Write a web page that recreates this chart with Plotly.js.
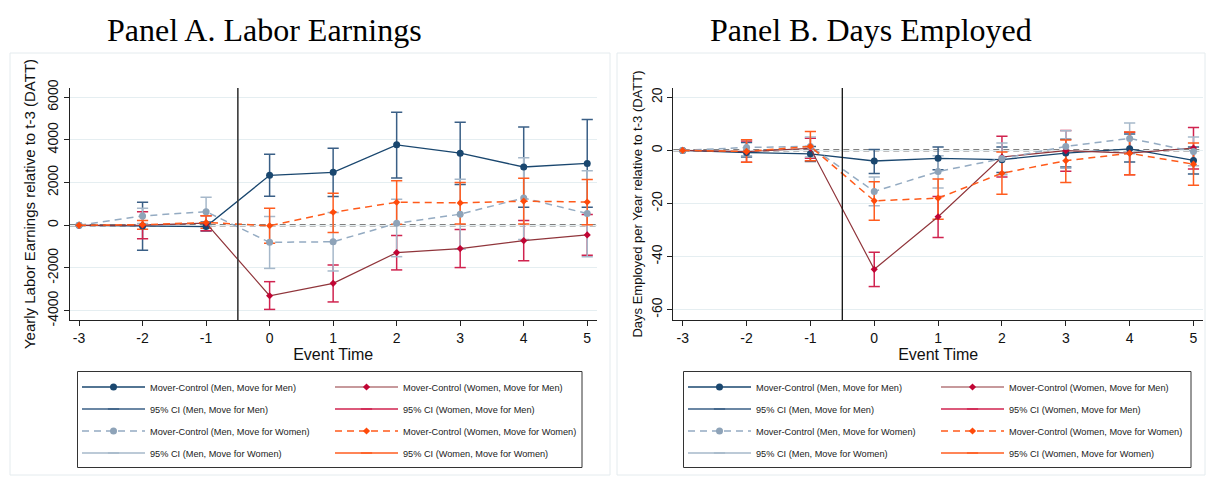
<!DOCTYPE html>
<html>
<head>
<meta charset="utf-8">
<script src="https://cdn.plot.ly/plotly-3.0.1.min.js"></script>
<style>html,body{margin:0;padding:0;background:#fff;}#chart{width:1206px;height:477px;}</style>
</head>
<body>
<div id="chart"></div>
<script>
// Event time
const eventTime = [-3, -2, -1, 0, 1, 2, 3, 4, 5];

// Panel A: Labor earnings (DATT relative to t-3)
const earnMM   = [0, -30, -60, 2340, 2480, 3770, 3380, 2730, 2900];
const earnMMlo = [0, -1170, -270, 1360, 1345, 2220, 1910, 845, 845];
const earnMMhi = [0, 1080, 150, 3330, 3610, 5300, 4830, 4610, 4950];

const earnWM   = [0, 10, 100, -3300, -2720, -1280, -1090, -720, -450];
const earnWMlo = [0, -625, -250, -3940, -3590, -2090, -1980, -1660, -1400];
const earnWMhi = [0, 640, 450, -2640, -1860, -480, -200, 220, 500];

const earnMW   = [0, 440, 640, -800, -770, 90, 520, 1280, 550];
const earnMWlo = [0, 80, -30, -2020, -2140, -1470, -1120, -660, -1470];
const earnMWhi = [0, 800, 1310, 410, 600, 1220, 2160, 3160, 2560];

const earnWW   = [0, 30, 130, -20, 610, 1080, 1050, 1130, 1090];
const earnWWlo = [0, -190, -140, -840, -340, 50, 60, 60, 30];
const earnWWhi = [0, 220, 450, 800, 1500, 2090, 2000, 2200, 2140];

// Panel B: Days employed per year (DATT relative to t-3)
const daysMM   = [0, -0.8, -1.3, -4.0, -3.0, -3.5, -1.0, 0.6, -3.8];
const daysMMlo = [0, -2.5, -4.2, -8.7, -7.3, -8.3, -6.3, -4.4, -8.9];
const daysMMhi = [0, 3.0, 1.5, 0.3, 1.3, 1.3, 4.2, 6.2, 1.3];

const daysWM   = [0, -0.5, 0.8, -44.8, -25.0, -2.5, -0.1, -1.0, 0.9];
const daysWMlo = [0, -4.5, -3.0, -51.3, -32.8, -10.0, -7.9, -9.2, -7.0];
const daysWMhi = [0, 3.5, 4.6, -38.4, -17.4, 5.3, 7.5, 6.8, 8.6];

const daysMW   = [0, 1.1, 1.5, -15.5, -8.0, -3.1, 1.5, 4.5, -0.4];
const daysMWlo = [0, -2.0, -2.5, -20.9, -14.2, -9.2, -6.7, -1.3, -5.8];
const daysMWhi = [0, 4.0, 5.0, -10.0, -2.0, 2.8, 7.4, 10.3, 5.0];

const daysWW   = [0, -0.4, 1.5, -19.0, -18.0, -8.6, -3.9, -1.1, -5.2];
const daysWWlo = [0, -4.5, -3.9, -26.3, -25.9, -16.5, -12.1, -9.2, -13.1];
const daysWWhi = [0, 4.0, 7.1, -11.8, -10.8, -0.6, 3.9, 6.9, 2.8];

// Tick labels
const earnTicks = [-4000, -2000, 0, 2000, 4000, 6000];
const daysTicks = [-60, -40, -20, 0, 20];

// Legend labels
const labels = {
  MM: 'Mover-Control (Men, Move for Men)',
  WM: 'Mover-Control (Women, Move for Men)',
  ciMM: '95% CI (Men, Move for Men)',
  ciWM: '95% CI (Women, Move for Men)',
  MW: 'Mover-Control (Men, Move for Women)',
  WW: 'Mover-Control (Women, Move for Women)',
  ciMW: '95% CI (Men, Move for Women)',
  ciWW: '95% CI (Women, Move for Women)'
};

const sty = {
  MM: {line: '#1a476f', marker: '#1a476f', sym: 'circle', size: 7, dash: 'solid', ci: '#3a5f86', w: 1.3},
  WM: {line: '#90353b', marker: '#c10534', sym: 'diamond', size: 5.5, dash: 'solid', ci: '#d0234f', w: 1.2},
  MW: {line: '#94abc2', marker: '#8ea3b8', sym: 'circle', size: 7, dash: '7px,5px', ci: '#a6b8ca', w: 1.5},
  WW: {line: '#ff5a1a', marker: '#ff4a0a', sym: 'diamond', size: 5.5, dash: '7px,5px', ci: '#ff5c1f', w: 1.5}
};

function ciSeg(x, lo, hi) {
  const xx = [], yy = [];
  for (let i = 0; i < x.length; i++) {
    if (lo[i] === hi[i]) continue;
    xx.push(x[i], x[i], null);
    yy.push(lo[i], hi[i], null);
  }
  return {x: xx, y: yy};
}

const rankOf = {MM: 1, ciMM: 2, MW: 3, ciMW: 4, WM: 1, ciWM: 2, WW: 3, ciWW: 4};
const colOf = {MM: 0, ciMM: 0, MW: 0, ciMW: 0, WM: 1, ciWM: 1, WW: 1, ciWW: 1};

function panelTraces(data, xa, ya, legA, legB, pfx) {
  const tr = [];
  ['MM', 'WM', 'MW', 'WW'].forEach(k => {
    const s = sty[k];
    const seg = ciSeg(eventTime, data[k + 'lo'], data[k + 'hi']);
    tr.push({
      type: 'scatter', mode: 'lines+markers', x: seg.x, y: seg.y,
      xaxis: xa, yaxis: ya, connectgaps: false,
      line: {color: s.ci, width: 1.5},
      marker: {symbol: 'line-ew', size: 8, color: s.ci, line: {color: s.ci, width: 1.5}},
      name: labels['ci' + k], legend: colOf['ci' + k] ? legB : legA,
      legendgroup: pfx + 'ci' + k, legendrank: rankOf['ci' + k], hoverinfo: 'skip'
    });
  });
  ['MM', 'WM', 'MW', 'WW'].forEach(k => {
    const s = sty[k];
    tr.push({
      type: 'scatter', mode: 'lines+markers', x: eventTime, y: data[k],
      xaxis: xa, yaxis: ya,
      line: {color: s.line, width: s.w, dash: s.dash},
      marker: {symbol: s.sym, size: s.size, color: s.marker},
      name: labels[k], legend: colOf[k] ? legB : legA,
      legendgroup: pfx + k, legendrank: rankOf[k]
    });
  });
  return tr;
}

const dataA = {MM: earnMM, MMlo: earnMMlo, MMhi: earnMMhi, WM: earnWM, WMlo: earnWMlo, WMhi: earnWMhi,
  MW: earnMW, MWlo: earnMWlo, MWhi: earnMWhi, WW: earnWW, WWlo: earnWWlo, WWhi: earnWWhi};
const dataB = {MM: daysMM, MMlo: daysMMlo, MMhi: daysMMhi, WM: daysWM, WMlo: daysWMlo, WMhi: daysWMhi,
  MW: daysMW, MWlo: daysMWlo, MWhi: daysMWhi, WW: daysWW, WWlo: daysWWlo, WWhi: daysWWhi};

const traces = panelTraces(dataA, 'x', 'y', 'legend', 'legend2', 'a')
  .concat(panelTraces(dataB, 'x2', 'y2', 'legend3', 'legend4', 'b'));

const W = 1206, H = 477;
const px = v => v / W;
const py = v => (H - v) / H;

const tickFont = {family: 'Liberation Sans, Arial, sans-serif', size: 14, color: '#111'};
const axX = (dom) => ({
  domain: dom, range: [-3.147, 5.149], tickvals: eventTime, ticktext: eventTime.map(String),
  ticks: 'outside', ticklen: 5, tickcolor: '#222', tickwidth: 1,
  showline: true, linecolor: '#222', linewidth: 1.2, mirror: false,
  showgrid: false, zeroline: false, tickfont: tickFont,
  title: {text: 'Event Time', font: {family: 'Liberation Sans, Arial, sans-serif', size: 16, color: '#111'}, standoff: 1}
});
const axY = (dom, rng, tv, title, tsize, anchor, so) => ({
  domain: dom, range: rng, tickvals: tv, ticktext: tv.map(String), tickangle: -90,
  ticks: 'outside', ticklen: 5, tickcolor: '#222', tickwidth: 1,
  showline: true, linecolor: '#222', linewidth: 1.2, mirror: false,
  showgrid: true, gridcolor: '#e5eef1', gridwidth: 1, zeroline: false, tickfont: tickFont,
  anchor: anchor,
  title: {text: title, font: {family: 'Liberation Sans, Arial, sans-serif', size: tsize, color: '#111'}, standoff: so}
});

const yDom = [py(320), py(88)];
const legFont = {family: 'Liberation Sans, Arial, sans-serif', size: 9.2, color: '#222'};
const mkLeg = (x) => ({
  x: px(x), y: py(372.5), xanchor: 'left', yanchor: 'top', orientation: 'v',
  traceorder: 'grouped', tracegroupgap: 3, itemwidth: 63, font: legFont,
  bgcolor: 'rgba(0,0,0,0)', borderwidth: 0, itemclick: false
});

const layout = {
  width: W, height: H, margin: {l: 0, r: 0, t: 0, b: 0},
  paper_bgcolor: '#fff', plot_bgcolor: '#fff', showlegend: true,
  xaxis: Object.assign(axX([px(69.7), px(596.7)]), {anchor: 'y'}),
  yaxis: axY(yDom, [-4436, 6431], earnTicks, 'Yearly Labor Earnings relative to t-3 (DATT)', 15, 'x', 5),
  xaxis2: Object.assign(axX([px(673.3), px(1203)]), {anchor: 'y2'}),
  yaxis2: axY(yDom, [-63.9, 23.5], daysTicks, 'Days Employed per Year relative to t-3 (DATT)', 13, 'x2', 3),
  legend: mkLeg(77),
  legend2: mkLeg(330),
  legend3: mkLeg(683),
  legend4: mkLeg(936),
  shapes: [
    // panel frames
    {type: 'rect', xref: 'paper', yref: 'paper', x0: px(10), x1: px(610), y0: py(475), y1: py(53), line: {color: '#e4ebee', width: 1}, layer: 'below'},
    {type: 'rect', xref: 'paper', yref: 'paper', x0: px(617), x1: px(1205), y0: py(475), y1: py(53), line: {color: '#e4ebee', width: 1}, layer: 'below'},
    // legend boxes
    {type: 'rect', xref: 'paper', yref: 'paper', x0: px(77.5), x1: px(582), y0: py(467.5), y1: py(371.5), line: {color: '#333', width: 1}},
    {type: 'rect', xref: 'paper', yref: 'paper', x0: px(683.5), x1: px(1191), y0: py(467.5), y1: py(371.5), line: {color: '#333', width: 1}},
    // reference lines
    {type: 'line', xref: 'x', yref: 'y domain', x0: -0.5, x1: -0.5, y0: 0, y1: 1, line: {color: '#3a3a3a', width: 1.6}, layer: 'above'},
    {type: 'line', xref: 'x domain', yref: 'y', x0: 0, x1: 1, y0: 0, y1: 0, line: {color: '#000', width: 1.7, dash: '6px,4px'}, layer: 'below'},
    {type: 'line', xref: 'x2', yref: 'y2 domain', x0: -0.5, x1: -0.5, y0: 0, y1: 1, line: {color: '#111', width: 1.3}, layer: 'above'},
    {type: 'line', xref: 'x2 domain', yref: 'y2', x0: 0, x1: 1, y0: 0, y1: 0, line: {color: '#000', width: 1.7, dash: '6px,4px'}, layer: 'below'}
  ],
  annotations: [
    {text: 'Panel A. Labor Earnings', xref: 'paper', yref: 'paper', x: px(264), y: py(30), xanchor: 'center', yanchor: 'middle', showarrow: false,
     font: {family: 'Liberation Serif, Times New Roman, serif', size: 32, color: '#000'}},
    {text: 'Panel B. Days Employed', xref: 'paper', yref: 'paper', x: px(871), y: py(30), xanchor: 'center', yanchor: 'middle', showarrow: false,
     font: {family: 'Liberation Serif, Times New Roman, serif', size: 32, color: '#000'}}
  ]
};

Plotly.newPlot('chart', traces, layout, {displayModeBar: false, staticPlot: true});
</script>
</body>
</html>
